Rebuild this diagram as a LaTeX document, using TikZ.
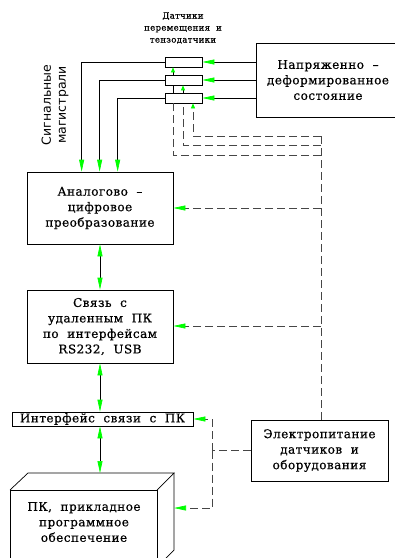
\documentclass[tikz,border=0pt]{standalone}
\usepackage{fontspec}
\setmainfont{DejaVu Serif}[LetterSpace=4,WordSpace=2,FakeBold=0.6]
\newfontfamily\sigfont{DejaVu Sans}
\usetikzlibrary{arrows.meta}
\definecolor{agreen}{RGB}{0,255,0}
\definecolor{dgray}{RGB}{70,70,70}
\tikzset{
  box/.style={draw, line width=0.7pt, inner sep=0pt, align=center, font=\fontsize{12}{15.5}\selectfont},
  sens/.style={draw, line width=0.7pt, inner sep=0pt, minimum width=37pt, minimum height=10pt},
  garrow/.style={-{Triangle[length=12pt,width=5pt,color=agreen]}},
  gboth/.style={{Triangle[length=12pt,width=5pt,color=agreen]}-{Triangle[length=12pt,width=5pt,color=agreen]}},
  sarrow/.style={-{Triangle[length=5pt,width=4pt,color=agreen]}},
  dline/.style={draw=dgray, dash pattern=on 8pt off 4pt, line width=0.7pt},
  wire/.style={line width=0.7pt},
}
\begin{document}
\begin{tikzpicture}[x=1pt,y=-1pt]
\useasboundingbox (0,0) rectangle (395,558);
\clip (0,0) rectangle (395,558);
% sensors
\node[sens] (s1) at (183.5,62) {};
\node[sens] (s2) at (183.5,80) {};
\node[sens] (s3) at (183.5,98) {};
\node[align=center, font=\fontsize{8.5}{12}\selectfont] (senslabel) at (183,28) {Датчики\\перемещения и\\тензодатчики};
% stress state
\node[box, minimum width=144pt, minimum height=74pt] (state) at (328,80) {Напряженно –\\деформированное\\состояние};
% signal label
\node[rotate=90, align=center, font=\sigfont\fontsize{12.5}{15}\selectfont] (siglabel) at (55,105) {Сигнальные\\магистрали};
% main boxes
\node[box, minimum width=146pt, minimum height=72pt] (adc) at (100,208) {Аналогово –\\цифровое\\преобразование};
\node[box, minimum width=146pt, minimum height=73pt] (comm) at (100,326.5) {Связь с\\удаленным ПК\\по интерфейсам\\RS232, USB};
\node[box, minimum width=181pt, minimum height=14pt] (iface) at (102.5,419) {Интерфейс связи с ПК};
\node[box, minimum width=137pt, minimum height=61pt] (power) at (319.5,450.5) {Электропитание\\датчиков и\\оборудования};
% PC 3D box
\draw[wire] (10,575) -- (10,490) -- (157,490) -- (157,575);
\draw[wire] (10,490) -- (28,473) -- (174,473) -- (157,490);
\draw[wire] (174,473) -- (174,550) -- (157,567);
\node[align=center, font=\fontsize{12}{15.5}\selectfont] (pc) at (84,522) {ПК, прикладное\\программное\\обеспечение};
\coordinate (pctop) at (100,473);
\coordinate (pcright) at (174,508);
% state -> sensors
\draw[wire, garrow] (state.west |- s1) -- (s1.east);
\draw[wire, garrow] (state.west |- s2) -- (s2.east);
\draw[wire, garrow] (state.west |- s3) -- (s3.east);
% signal lines
\draw[wire, garrow] (s1.west) -| ([xshift=55pt]adc.north west);
\draw[wire, garrow] (s2.west) -| ([xshift=73pt]adc.north west);
\draw[wire, garrow] (s3.west) -| ([xshift=91pt]adc.north west);
% sensor chain
\draw[wire, sarrow] ([xshift=-10.5pt]s2.north) -- ([xshift=-10.5pt]s1.south);
\draw[wire] ([xshift=-10.5pt]s3.north) -- ([xshift=-10.5pt]s2.south);
\draw[wire, sarrow] ([xshift=-0.5pt]s3.north) -- ([xshift=-0.5pt]s2.south);
% vertical chain
\draw[wire, gboth] (adc.south) -- (comm.north);
\draw[wire, gboth] (comm.south) -- (iface.north -| comm.south);
\draw[wire, gboth] (iface.south -| comm.south) -- (pctop);
% power dashed bus
\coordinate (b1) at (321,136);
\coordinate (b2) at (321,145);
\coordinate (b3) at (321,155);
\coordinate (ba) at (321,208);
\coordinate (bc) at (321,326);
\draw[dline] (b1) -- (b1 |- power.north);
\draw[dline, sarrow] (b1) -| ([xshift=9.5pt]s3.south);
\draw[dline] (b2) -| ([xshift=-0.5pt]s3.south);
\draw[dline] (b3) -| ([xshift=-10.5pt]s3.south);
\draw[dline, garrow] (ba) -- (adc.east |- ba);
\draw[dline, garrow] (bc) -- (comm.east |- bc);
\coordinate (pw) at (212,450.5);
\draw[dline] (power.west) -- (pw);
\draw[dline, garrow] (pw) |- (iface.east);
\draw[dline, garrow] (pw) |- (pcright);
\end{tikzpicture}
\end{document}
